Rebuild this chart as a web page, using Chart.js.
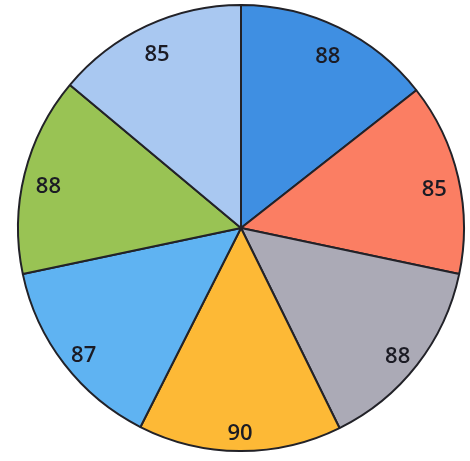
<!DOCTYPE html>
<html>
<head>
<meta charset="utf-8">
<script src="https://cdn.jsdelivr.net/npm/chart.js@4"></script>
<style>
  html, body { margin: 0; padding: 0; background: #ffffff; }
  #wrap { width: 470px; height: 461px; }
</style>
</head>
<body>
<div id="wrap"><canvas id="c" width="470" height="461"></canvas></div>
<script>
const categories = ["A", "B", "C", "D", "E", "F", "G"];
const values = [88, 85, 88, 90, 87, 88, 85];
const sliceColors = ["#3f8fe2", "#fb7e63", "#abaab6", "#fdb936", "#5fb3f2", "#99c354", "#a9c8f1"];

const labelPlugin = {
  id: 'sliceLabels',
  afterDatasetsDraw(chart) {
    const ctx = chart.ctx;
    const meta = chart.getDatasetMeta(0);
    ctx.save();
    ctx.font = '600 22px "Open Sans", "Liberation Sans", sans-serif';
    ctx.fillStyle = '#1b1b24';
    ctx.textAlign = 'center';
    ctx.textBaseline = 'middle';
    meta.data.forEach((arc, i) => {
      const p = arc.getProps(['x', 'y', 'startAngle', 'endAngle', 'outerRadius'], true);
      const mid = (p.startAngle + p.endAngle) / 2;
      const r = p.outerRadius * 0.89;
      ctx.fillText(String(values[i]), p.x + Math.cos(mid) * r, p.y + Math.sin(mid) * r + 7);
    });
    ctx.restore();
  }
};

function shaded(ctx) {
  const chart = ctx.chart;
  const base = sliceColors[ctx.dataIndex];
  const arc = chart.getDatasetMeta(0).data[ctx.dataIndex];
  if (!arc || !arc.outerRadius) return base;
  const g = chart.ctx.createRadialGradient(arc.x, arc.y, 0, arc.x, arc.y, arc.outerRadius);
  g.addColorStop(0, base);
  g.addColorStop(0.9, base);
  g.addColorStop(0.96, 'rgba(255,255,255,0.55)');
  g.addColorStop(1, base);
  return g;
}

new Chart(document.getElementById('c'), {
  type: 'pie',
  data: {
    labels: categories,
    datasets: [{
      data: values,
      backgroundColor: shaded,
      borderColor: '#222228',
      borderWidth: 2
    }]
  },
  options: {
    responsive: false,
    animation: false,
    layout: { padding: { top: 4, bottom: 9, left: 12, right: 0 } },
    plugins: { legend: { display: false }, tooltip: { enabled: false } }
  },
  plugins: [labelPlugin]
});
</script>
</body>
</html>
